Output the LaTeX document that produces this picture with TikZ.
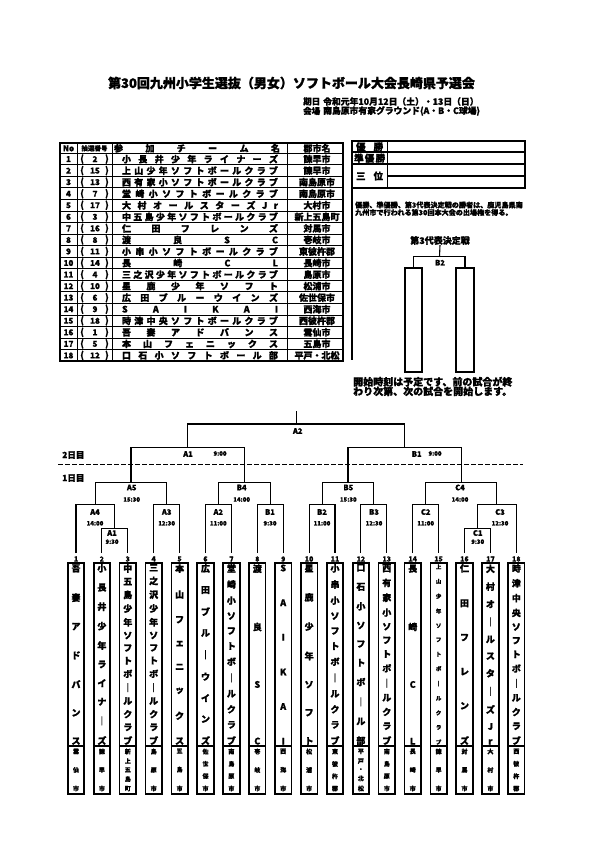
\documentclass[tikz,border=0pt]{standalone}
\usepackage{fontspec}
\setmainfont{Noto Sans CJK JP}[BoldFeatures={FakeBold=1.2}]
\usetikzlibrary{calc}
\newcommand\fsz[1]{\fontsize{#1}{#1}\selectfont\bfseries}
\def\hsA#1{\ifx#1\relax\else#1\expandafter\hsB\fi}
\def\hsB#1{\ifx#1\relax\else\hfill#1\expandafter\hsB\fi}
\newcommand\hspread[2]{\hbox to #1{\expandafter\hsA#2\relax}}
\def\vsA#1{\ifx#1\relax\else\hbox to 16pt{\hss#1\hss}\expandafter\vsB\fi}
\def\vsB#1{\ifx#1\relax\else\vfill\hbox to 16pt{\hss#1\hss}\expandafter\vsB\fi}
\newcommand\vspread[2]{\vbox to #1{\offinterlineskip\expandafter\vsA#2\relax}}
\tikzset{
  br/.style={line width=1.1pt},
  tbox/.style={draw, line width=1.7pt, minimum width=16.5pt, minimum height=183pt, inner sep=0pt},
  cbox/.style={draw, line width=1.7pt, minimum width=16.5pt, minimum height=48pt, inner sep=0pt},
  rbox/.style={draw, line width=1.7pt, minimum height=104pt, inner sep=0pt},
  ml/.style={inner sep=0pt, font=\fsz{7.5}},
  tl/.style={inner sep=0pt, font=\fsz{6}},
  numl/.style={inner sep=0pt, font=\fsz{7}},
  tx/.style={inner sep=0pt, font=\fsz{9}},
  thin grid/.style={line width=1pt},
  thick grid/.style={line width=1.7pt},
  daydash/.style={line width=1.5pt, dash pattern=on 4.5pt off 2.5pt}
}
\begin{document}
\begin{tikzpicture}[x=1pt,y=-1pt]
\useasboundingbox[fill=white] (0,0) rectangle (595,842);

% ---- title ----
\node[inner sep=0pt, font=\fsz{13}] (title) at (291.5,83) {第30回九州小学生選抜（男女）ソフトボール大会長崎県予選会};
\node[inner sep=0pt, anchor=west, font=\fsz{8.5}] (dlab) at (303,101.5) {期日};
\node[inner sep=0pt, anchor=west, font=\fsz{8.8}] (dtxt) at (323,101.5) {令和元年10月12日（土）・13日（日）};
\node[inner sep=0pt, anchor=west, font=\fsz{8.5}] (vlab) at (303,111) {会場};
\node[inner sep=0pt, anchor=west, font=\fsz{8.8}] (vtxt) at (323,111) {南島原市有家グラウンド(A・B・C球場)};

% ---- team table ----
\draw[thick grid] (60,143) rectangle (343,361.2);
\foreach \k in {0,...,17} {
  \draw[thin grid] (60,{153.3+\k*11.55}) -- (343,{153.3+\k*11.55});
}
\draw[thin grid] (77,143) -- (77,361.2);
\draw[thin grid] (112,143) -- (112,361.2);
\draw[thin grid] (287,143) -- (287,361.2);
\node[tx, font=\fsz{8}] (hno) at (68.5,148.3) {No};
\node[tx, font=\fsz{6.5}] (hlot) at (94.5,148.3) {抽選番号};
\node[tx] (hteam) at (197,148.3) {\hspread{166pt}{参加チーム名}};
\node[tx] (hcity) at (317,148.3) {郡市名};
\foreach \n/\d/\t/\c in {
 1/2/小長井少年ライナーズ/諫早市,
 2/15/上山少年ソフトボールクラブ/諫早市,
 3/13/西有家小ソフトボールクラブ/南島原市,
 4/7/堂崎小ソフトボールクラブ/南島原市,
 5/17/大村オールスターズJr/大村市,
 6/3/中五島少年ソフトボールクラブ/新上五島町,
 7/16/仁田フレンズ/対馬市,
 8/8/渡良SC/壱岐市,
 9/11/小串小ソフトボールクラブ/東彼杵郡,
 10/14/長崎CL/長崎市,
 11/4/三之沢少年ソフトボールクラブ/島原市,
 12/10/星鹿少年ソフト/松浦市,
 13/6/広田ブルーウインズ/佐世保市,
 14/9/SAIKAI/西海市,
 15/18/時津中央ソフトボールクラブ/西彼杵郡,
 16/1/吾妻アドバンス/雲仙市,
 17/5/本山フェニックス/五島市,
 18/12/口石小ソフトボール部/平戸・北松} {
  \pgfmathsetmacro\yy{153.3+(\n-0.5)*11.55}
  \node[tx, font=\fsz{8}] (rno\n) at (68.5,\yy) {\n};
  \node[tx] (rlp\n) at (82,\yy) {(};
  \node[tx, font=\fsz{8}] (rlot\n) at (95,\yy) {\d};
  \node[tx] (rrp\n) at (107,\yy) {)};
  \node[tx] (rteam\n) at (200,\yy) {\hspread{156pt}{\t}};
  \node[tx] (rcity\n) at (317,\yy) {\c};
}

% ---- result box ----
\draw[thick grid] (352,141.3) rectangle (525.3,188);
\draw[thick grid] (352,188) -- (352,360);
\draw[thin grid] (387.3,141.3) -- (387.3,188);
\draw[thick grid] (352,152.3) -- (525.3,152.3);
\draw[thick grid] (352,164) -- (525.3,164);
\draw[thick grid] (387.3,176) -- (525.3,176);
\node[tx, font=\fsz{9.5}] (win) at (369.6,146.8) {\hspread{27pt}{優勝}};
\node[tx, font=\fsz{9.5}] (runner) at (369.6,158.2) {\hspread{31pt}{準優勝}};
\node[tx, font=\fsz{9.5}] (third) at (369.6,176) {\hspread{27pt}{三位}};
\node[inner sep=0pt, anchor=west, font=\fsz{7.1}] (note1) at (355,205) {優勝、準優勝、第3代表決定戦の勝者は、鹿児島県南};
\node[inner sep=0pt, anchor=west, font=\fsz{7.1}] (note2) at (355,212.5) {九州市で行われる第30回本大会の出場権を得る。};

% ---- third representative match ----
\node[inner sep=0pt, font=\fsz{9}] (t3title) at (440,240.5) {第3代表決定戦};
\coordinate (m3) at (439.5,256.7);
\node[rbox, minimum width=17.3pt] (r1) at (413.65,319.7) {};
\node[rbox, minimum width=18pt] (r2) at (465,319.7) {};
\draw[br] (r1.north) |- (m3) -| (r2.north);
\draw[br] (m3) -- (t3title.south);
\node[ml] (lb3) at (440,262.7) {B2};
\node[inner sep=0pt, anchor=west, font=\fsz{10}] (start1) at (353,381.7) {開始時刻は予定です、前の試合が終};
\node[inner sep=0pt, anchor=west, font=\fsz{10}] (start2) at (353,391.3) {わり次第、次の試合を開始します。};

% ---- day labels & dashed separator ----
\node[inner sep=0pt, anchor=west, font=\fsz{8.5}] (day2) at (62,455) {2日目};
\node[inner sep=0pt, anchor=west, font=\fsz{8.5}] (day1) at (62,478) {1日目};
\coordinate (dl) at (58,464.3);
\coordinate (dr) at (523,464.3);
\draw[daydash] (dl) -- (dr);

% ---- bottom team columns ----
\foreach \i/\nm/\ct/\s in {
 1/吾妻アドバンス/雲仙市/9,
 2/小長井少年ライナ｜ズ/諫早市/9,
 3/中五島少年ソフトボ｜ルクラブ/新上五島町/9,
 4/三之沢少年ソフトボ｜ルクラブ/島原市/9,
 5/本山フェニックス/五島市/9,
 6/広田ブル｜ウインズ/佐世保市/9,
 7/堂崎小ソフトボ｜ルクラブ/南島原市/9,
 8/渡良SC/壱岐市/9,
 9/SAIKAI/西海市/9,
 10/星鹿少年ソフト/松浦市/9,
 11/小串小ソフトボ｜ルクラブ/東彼杵郡/9,
 12/口石小ソフトボ｜ル部/平戸・北松/9,
 13/西有家小ソフトボ｜ルクラブ/南島原市/9,
 14/長崎CL/長崎市/9,
 15/上山少年ソフトボ｜ルクラブ/諫早市/5.5,
 16/仁田フレンズ/対馬市/9,
 17/大村オ｜ルスタ｜ズJr/大村市/9,
 18/時津中央ソフトボ｜ルクラブ/西彼杵郡/9} {
  \pgfmathsetmacro\xx{76+(\i-1)*25.9}
  \coordinate (t\i) at (\xx,553);
  \node[numl] (num\i) at (\xx,559) {\i};
  \node[tbox] (n\i) at (\xx,654.5) {\fsz{\s}\vspread{180pt}{\nm}};
  \node[cbox] (c\i) at (\xx,770) {\fsz{6}\vspread{42pt}{\ct}};
}

% ---- bracket match points ----
\coordinate (mA1a) at (114.85,528.3);
\coordinate (mA4) at (95.4,504.3);
\coordinate (mA3) at (166.65,504.3);
\coordinate (mA5) at (131.0,482.3);
\coordinate (mA2a) at (218.45,504.3);
\coordinate (mB1a) at (270.25,504.3);
\coordinate (mB4) at (244.35,482.3);
\coordinate (mA1b) at (187.7,447.7);
\coordinate (mB2a) at (322.05,504.3);
\coordinate (mB3a) at (373.85,504.3);
\coordinate (mB5) at (347.95,482.3);
\coordinate (mC2) at (425.65,504.3);
\coordinate (mC1) at (477.45,528.3);
\coordinate (mC3) at (496.9,504.3);
\coordinate (mC4) at (461.3,482.3);
\coordinate (mB1b) at (404.6,447.7);
\coordinate (mF) at (296.15,424);
\coordinate (topF) at (296.15,411);

\draw[br] (t2) |- (mA1a) -| (t3);
\draw[br] (t1) |- (mA4) -| (mA1a);
\draw[br] (t4) |- (mA3) -| (t5);
\draw[br] (mA4) |- (mA5) -| (mA3);
\draw[br] (t6) |- (mA2a) -| (t7);
\draw[br] (t8) |- (mB1a) -| (t9);
\draw[br] (mA2a) |- (mB4) -| (mB1a);
\draw[br] (mA5) |- (mA1b) -| (mB4);
\draw[br] (t10) |- (mB2a) -| (t11);
\draw[br] (t12) |- (mB3a) -| (t13);
\draw[br] (mB2a) |- (mB5) -| (mB3a);
\draw[br] (t14) |- (mC2) -| (t15);
\draw[br] (t16) |- (mC1) -| (t17);
\draw[br] (mC1) |- (mC3) -| (t18);
\draw[br] (mC2) |- (mC4) -| (mC3);
\draw[br] (mB5) |- (mB1b) -| (mC4);
\draw[br] (mA1b) |- (mF) -| (mB1b);
\draw[br] (mF) -- (topF);

% ---- match labels ----
\node[ml] (lF) at (297.7,431) {A2};
\node[ml] (lA1b) at (188,454) {A1};
\node[tl] (tA1b) at (220,453.5) {9:00};
\node[ml] (lB1b) at (416.7,454) {B1};
\node[tl] (tB1b) at (435,453.5) {9:00};
\node[ml] (lA5) at (131.7,487.5) {A5};
\node[tl] (tA5) at (131.7,499.5) {15:30};
\node[ml] (lB4) at (241.7,487.5) {B4};
\node[tl] (tB4) at (241.7,499.5) {14:00};
\node[ml] (lB5) at (348.3,487.5) {B5};
\node[tl] (tB5) at (348.3,499.5) {15:30};
\node[ml] (lC4) at (460,487.5) {C4};
\node[tl] (tC4) at (460,499.5) {14:00};
\node[ml] (lA4) at (95,512) {A4};
\node[tl] (tA4) at (95,523.3) {14:00};
\node[ml] (lA3) at (166.7,512) {A3};
\node[tl] (tA3) at (166.7,523.3) {12:30};
\node[ml] (lA2a) at (218.3,512) {A2};
\node[tl] (tA2a) at (218.3,523.3) {11:00};
\node[ml] (lB1a) at (270,512) {B1};
\node[tl] (tB1a) at (270,523.3) {9:30};
\node[ml] (lB2a) at (322,512) {B2};
\node[tl] (tB2a) at (322,523.3) {11:00};
\node[ml] (lB3a) at (374,512) {B3};
\node[tl] (tB3a) at (374,523.3) {12:30};
\node[ml] (lC2) at (425.7,512) {C2};
\node[tl] (tC2) at (425.7,523.3) {11:00};
\node[ml] (lC3) at (500,512) {C3};
\node[tl] (tC3) at (500,523.3) {12:30};
\node[ml] (lA1a) at (112,533) {A1};
\node[tl] (tA1a) at (112,541.7) {9:30};
\node[ml] (lC1) at (477.7,533) {C1};
\node[tl] (tC1) at (477.7,541.7) {9:30};
\end{tikzpicture}
\end{document}
